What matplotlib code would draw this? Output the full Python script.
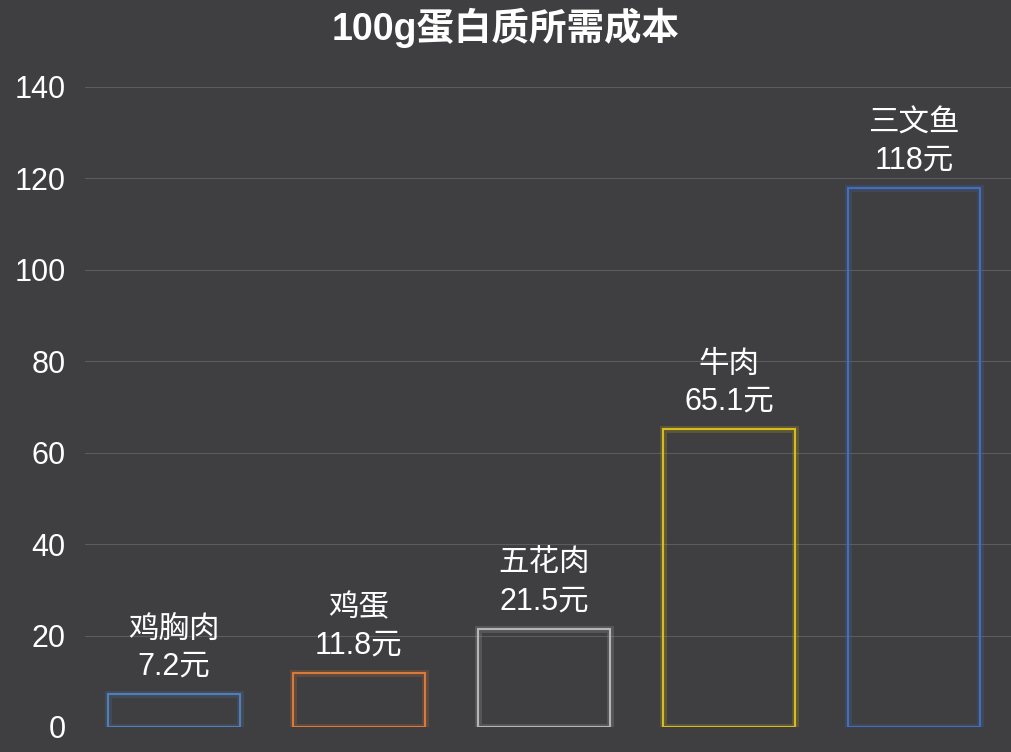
import matplotlib
matplotlib.use("Agg")
import matplotlib.pyplot as plt

plt.rcParams['font.family'] = ['Liberation Sans', 'Noto Sans CJK SC', 'DejaVu Sans']

# データ
foods = ["鸡胸肉", "鸡蛋", "五花肉", "牛肉", "三文鱼"]
costs = [7.2, 11.8, 21.5, 65.1, 118]
value_labels = ["7.2元", "11.8元", "21.5元", "65.1元", "118元"]
edge_colors = ["#4f7fb8", "#d9793a", "#b5b5b5", "#d6bc1c", "#3f6fc0"]
y_ticks = [0, 20, 40, 60, 80, 100, 120, 140]

bg = "#3f3e40"
fig = plt.figure(figsize=(10.12, 7.52), dpi=100, facecolor=bg)
ax = fig.add_axes([85 / 1012, 25 / 752, (1012 - 85) / 1012, (727 - 87) / 752])
ax.set_facecolor(bg)

x = list(range(len(foods)))
# glow
ax.bar(x, costs, width=0.714, facecolor="none", edgecolor=edge_colors, linewidth=5, alpha=0.2, zorder=2)
ax.bar(x, costs, width=0.714, facecolor="none", edgecolor=edge_colors, linewidth=1.5, zorder=3)

for xi, c, name, lab in zip(x, costs, foods, value_labels):
    ax.annotate(f"{name}\n{lab}", (xi, c), xytext=(0, 9), textcoords="offset points",
                ha="center", va="bottom", color="white", fontsize=22, linespacing=1.3)

ax.set_xlim(-0.48, 4.53)
ax.set_ylim(0, 140)
ax.set_yticks(y_ticks)
ax.set_xticks([])
ax.tick_params(axis="y", length=0, labelsize=22, labelcolor="white", pad=14)
ax.yaxis.grid(True, color="#5c5b5e", linewidth=0.8)
ax.set_axisbelow(True)
for s in ax.spines.values():
    s.set_visible(False)

fig.text(0.5, 0.963, "100g蛋白质所需成本", ha="center", va="center", color="white",
         fontsize=27, fontweight="bold")

plt.savefig("out.png", dpi=100, facecolor=bg)
